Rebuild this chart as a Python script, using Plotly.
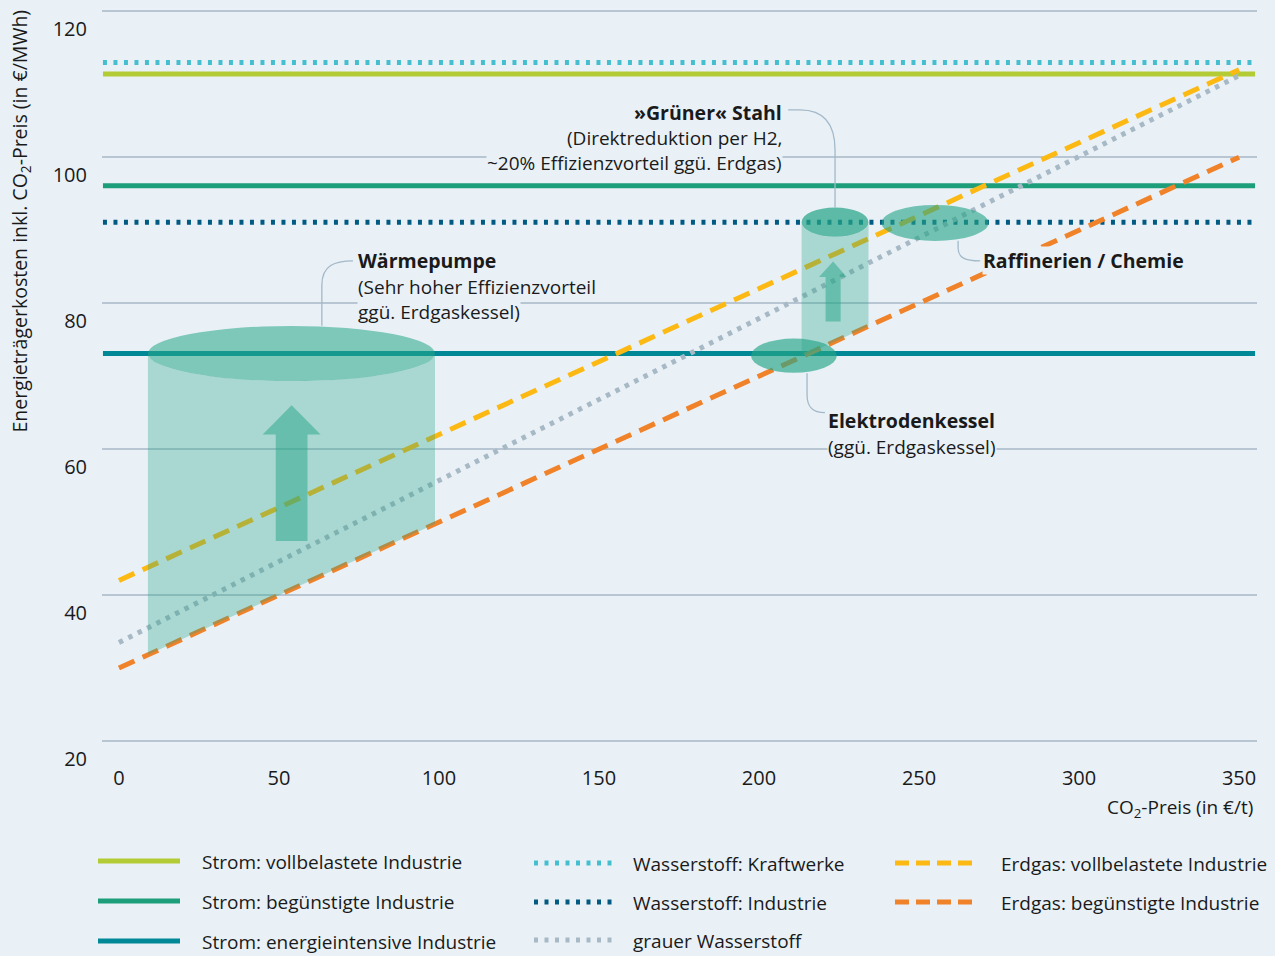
import plotly.graph_objects as go

# ---------------- data ----------------
co2_price = [0, 350]          # CO2-Preis (€/t) for the price-dependent series
co2_span = [-5, 355]          # span for the CO2-independent series

strom_voll = 111.4
strom_beg = 96.1
strom_energie = 73.1
h2_kraftwerke = 113.0
h2_industrie = 91.1
erdgas_voll = [42.0, 112.0]
grauer_h2 = [33.5, 111.2]
erdgas_beg = [30.0, 100.0]

x_ticks = [0, 50, 100, 150, 200, 250, 300, 350]
y_ticks = [20, 40, 60, 80, 100, 120]

# ---------------- style ----------------
BG = "#e9f1f7"
GRID = "#b7c6d2"
TXT = "#1a1a1a"
FONT = "Open Sans"
C_STROM_VOLL = "#b3cc35"
C_STROM_BEG = "#1c9e7a"
C_STROM_EN = "#008896"
C_H2_KW = "#45bfcf"
C_H2_IND = "#005a82"
C_GRAU = "#a8b9c6"
C_GAS_VOLL = "#fdb913"
C_GAS_BEG = "#f0822a"
DOT = "4px,6.5px"
DASH = "17px,9px"

L, R, T, B = 102, 1257, 10, 742
W, H = 1275, 956


def xp(px):
    return (px - L) / (R - L)


def yp(py):
    return (B - py) / (B - T)


fig = go.Figure()

def hline(v, color, dash, name):
    fig.add_trace(go.Scatter(x=co2_span, y=[v, v], mode="lines", name=name,
                             line=dict(color=color, width=5, dash=dash),
                             hoverinfo="skip"))

def dline(vals, color, dash, name):
    fig.add_trace(go.Scatter(x=co2_price, y=vals, mode="lines", name=name,
                             line=dict(color=color, width=5, dash=dash),
                             hoverinfo="skip"))

hline(h2_kraftwerke, C_H2_KW, DOT, "Wasserstoff: Kraftwerke")
hline(strom_voll, C_STROM_VOLL, "solid", "Strom: vollbelastete Industrie")
hline(strom_beg, C_STROM_BEG, "solid", "Strom: begünstigte Industrie")
hline(h2_industrie, C_H2_IND, DOT, "Wasserstoff: Industrie")
hline(strom_energie, C_STROM_EN, "solid", "Strom: energieintensive Industrie")
dline(erdgas_voll, C_GAS_VOLL, DASH, "Erdgas: vollbelastete Industrie")
dline(grauer_h2, C_GRAU, "4.5px,6px", "grauer Wasserstoff")
dline(erdgas_beg, C_GAS_BEG, DASH, "Erdgas: begünstigte Industrie")

shapes = []
annotations = []


def gas_beg_at(x):
    return erdgas_beg[0] + (erdgas_beg[1] - erdgas_beg[0]) * (x - co2_price[0]) / (co2_price[1] - co2_price[0])


def cylinder(x0, x1, yc, ry, body_alpha, top_alpha):
    xc = (x0 + x1) / 2
    rx = (x1 - x0) / 2
    k = 0.5523
    p = (f"M {x0},{gas_beg_at(x0)} L {x0},{yc} "
         f"C {x0},{yc - k*ry} {xc - k*rx},{yc - ry} {xc},{yc - ry} "
         f"C {xc + k*rx},{yc - ry} {x1},{yc - k*ry} {x1},{yc} "
         f"L {x1},{gas_beg_at(x1)} Z")
    shapes.append(dict(type="path", path=p, xref="x", yref="y",
                       fillcolor=f"rgba(38,165,135,{body_alpha})", line=dict(width=0)))
    shapes.append(dict(type="circle", x0=x0, x1=x1, y0=yc - ry, y1=yc + ry, xref="x", yref="y",
                       fillcolor=f"rgba(38,165,135,{top_alpha})", line=dict(width=0)))


def arrow(sx0, sx1, hy, hx0, hx1, y0, tipy):
    tx = (sx0 + sx1) / 2
    p = (f"M {sx0},{y0} L {sx0},{hy} L {hx0},{hy} L {tx},{tipy} L {hx1},{hy} "
         f"L {sx1},{hy} L {sx1},{y0} Z")
    shapes.append(dict(type="path", path=p, xref="x", yref="y",
                       fillcolor="rgba(38,165,135,0.5)", line=dict(width=0)))


def ellipse(x0, x1, yc, ry, alpha):
    shapes.append(dict(type="circle", x0=x0, x1=x1, y0=yc - ry, y1=yc + ry, xref="x", yref="y",
                       fillcolor=f"rgba(38,165,135,{alpha})", line=dict(width=0)))


def leader(path):
    shapes.append(dict(type="path", path=path, xref="x", yref="y",
                       line=dict(color="#a3b8c8", width=1.3)))


# Wärmepumpe
cylinder(9.05, 98.75, strom_energie, 3.77, 0.33, 0.55)
arrow(49.0, 58.9, 62.0, 44.9, 63.0, 47.4, 66.0)
# Grüner Stahl
cylinder(213.3, 234.2, h2_industrie, 2.0, 0.33, 0.72)
arrow(220.8, 225.5, 83.6, 218.75, 227.4, 77.5, 85.7)
# Elektrodenkessel / Raffinerien
ellipse(197.5, 224.3, 72.8, 2.35, 0.66)
ellipse(238.3, 271.7, 91.0, 2.47, 0.62)

leader("M 63.4,76.9 L 63.4,82.5 C 63.4,85.2 67.5,85.8 73.1,85.8")
leader("M 209.1,106.5 L 212.8,106.5 C 220.6,106.5 223.75,104.4 223.75,101.0 L 223.75,93.1")
leader("M 262.2,88.55 L 262.2,87.6 C 262.2,86.2 264.4,85.8 269.1,85.8")
leader("M 215.0,70.4 L 215.0,67.5 C 215.0,65.7 216.9,65.0 220.6,65.0")


def label(x, y, text, anchor, bold=False, size=19):
    annotations.append(dict(x=x, y=y, xref="x", yref="y", text=(f"<b>{text}</b>" if bold else text),
                            showarrow=False, xanchor=anchor, yanchor="middle",
                            font=dict(family=FONT, size=size, color=TXT), bgcolor=BG, borderpad=0))


label(74.4, 85.8, "Wärmepumpe", "left", True, 19.5)
label(74.4, 82.2, "(Sehr hoher Effizienzvorteil", "left")
label(74.4, 78.8, "ggü. Erdgaskessel)", "left")
label(207.5, 106.2, "»Grüner« Stahl", "right", True, 19.5)
label(207.5, 102.6, "(Direktreduktion per H2,", "right")
label(207.5, 99.2, "~20% Effizienzvorteil ggü. Erdgas)", "right")
label(269.7, 85.8, "Raffinerien / Chemie", "left", True, 19.5)
label(221.25, 63.9, "Elektrodenkessel", "left", True, 19.5)
label(221.25, 60.3, "(ggü. Erdgaskessel)", "left")

# axis titles
annotations.append(dict(x=xp(1255), y=yp(808), xref="paper", yref="paper",
                        text="CO<sub>2</sub>-Preis (in €/t)", showarrow=False,
                        xanchor="right", yanchor="middle",
                        font=dict(family=FONT, size=19, color=TXT)))
annotations.append(dict(x=xp(20), y=yp(8), xref="paper", yref="paper",
                        text="Energieträgerkosten inkl. CO<sub>2</sub>-Preis (in €/MWh)",
                        showarrow=False, textangle=-90, xanchor="center", yanchor="top",
                        font=dict(family=FONT, size=19.5, color=TXT)))

# manual legend
legend_items = [
    ("Strom: vollbelastete Industrie", C_STROM_VOLL, "solid", 98, 180, 200, 861),
    ("Strom: begünstigte Industrie", C_STROM_BEG, "solid", 98, 180, 200, 901),
    ("Strom: energieintensive Industrie", C_STROM_EN, "solid", 98, 180, 200, 941),
    ("Wasserstoff: Kraftwerke", C_H2_KW, DOT, 534, 612, 631, 863),
    ("Wasserstoff: Industrie", C_H2_IND, DOT, 534, 612, 631, 902),
    ("grauer Wasserstoff", C_GRAU, DOT, 534, 612, 631, 940),
    ("Erdgas: vollbelastete Industrie", C_GAS_VOLL, "14px,7px", 895, 977, 999, 863),
    ("Erdgas: begünstigte Industrie", C_GAS_BEG, "14px,7px", 895, 977, 999, 902),
]
for name, col, dash, s0, s1, tx, ty in legend_items:
    shapes.append(dict(type="line", xref="paper", yref="paper", x0=xp(s0), x1=xp(s1),
                       y0=yp(ty), y1=yp(ty), line=dict(color=col, width=5, dash=dash)))
    annotations.append(dict(x=xp(tx), y=yp(ty + 1), xref="paper", yref="paper", text=name,
                            showarrow=False, xanchor="left", yanchor="middle",
                            font=dict(family=FONT, size=19, color=TXT)))

fig.update_layout(
    width=W, height=H,
    margin=dict(l=L, r=W - R, t=T, b=H - B),
    paper_bgcolor=BG, plot_bgcolor=BG,
    showlegend=False,
    font=dict(family=FONT, color=TXT),
    shapes=shapes, annotations=annotations,
    xaxis=dict(range=[-5.3, 355.6], tickvals=x_ticks, showgrid=False, zeroline=False,
               showline=False, ticks="", ticklabelstandoff=22,
               tickfont=dict(family=FONT, size=20, color=TXT)),
    yaxis=dict(range=[19.86, 120.18], tickvals=y_ticks, showgrid=True, gridcolor=GRID,
               gridwidth=1.5, zeroline=False, showline=False, ticks="",
               ticklabelstandoff=14, ticklabelshift=18,
               tickfont=dict(family=FONT, size=20, color=TXT)),
)

fig.write_html("out.html")
